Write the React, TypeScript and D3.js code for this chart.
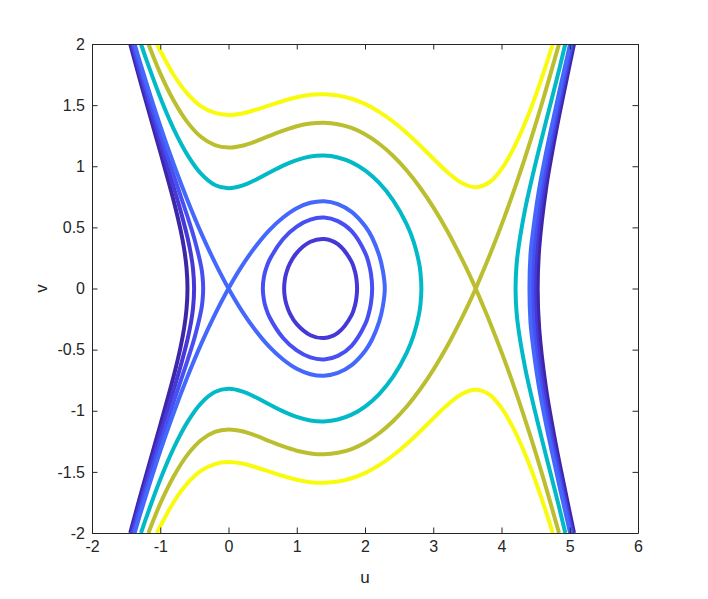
import React, { useEffect, useRef } from "react";
import * as d3 from "d3";

const width = 708;
const height = 599;
const margin = { top: 44, right: 70, bottom: 66, left: 92 };

const xTicks = [-2, -1, 0, 1, 2, 3, 4, 5, 6];
const yTicks = [-2, -1.5, -1, -0.5, 0, 0.5, 1, 1.5, 2];

// upper halves (v >= 0) of the contours.
// the lower halves are the mirror image in v.
const yellowUpper = [
  [-1.05, 2.0], [-1.0, 1.946], [-0.8, 1.744], [-0.6, 1.592], [-0.4, 1.49], [-0.2, 1.436],
  [0, 1.42], [0.2, 1.432], [0.4, 1.462], [0.6, 1.498], [0.8, 1.534], [1.0, 1.564],
  [1.2, 1.584], [1.4, 1.589], [1.602, 1.579], [1.804, 1.552], [2.006, 1.508], [2.208, 1.445],
  [2.41, 1.366], [2.612, 1.272], [2.814, 1.166], [3.016, 1.054], [3.218, 0.947], [3.42, 0.863],
  [3.622, 0.829], [3.83, 0.871], [4.03, 1.001], [4.23, 1.208], [4.43, 1.473], [4.63, 1.789],
  [4.75, 2.0],
];

const oliveLeft = [
  [-1.173, 2.0], [-1.0, 1.76], [-0.8, 1.534], [-0.6, 1.359], [-0.4, 1.239], [-0.2, 1.173],
  [0, 1.153], [0.2, 1.168], [0.4, 1.204], [0.6, 1.248], [0.8, 1.291], [1.0, 1.327],
  [1.2, 1.349], [1.4, 1.356], [1.602, 1.344], [1.804, 1.313], [2.006, 1.259], [2.208, 1.184],
  [2.41, 1.086], [2.612, 0.965], [2.814, 0.82], [3.016, 0.651], [3.218, 0.458], [3.42, 0.24],
  [3.521, 0.124], [3.622, 0],
];
const oliveRight = [
  [3.622, 0], [3.723, 0.133], [3.825, 0.269], [4.028, 0.561], [4.23, 0.878], [4.43, 1.218],
  [4.63, 1.585], [4.83, 1.976], [4.842, 2.0],
];

const cyanLeft = [
  [-1.282, 2.0], [-1.2, 1.866], [-1.0, 1.563], [-0.8, 1.302], [-0.6, 1.091], [-0.4, 0.937],
  [-0.2, 0.847], [0, 0.82], [0.2, 0.841], [0.4, 0.89], [0.6, 0.949], [0.8, 1.005],
  [1.0, 1.05], [1.2, 1.079], [1.4, 1.087], [1.602, 1.072], [1.804, 1.032], [2.006, 0.964],
  [2.208, 0.863], [2.41, 0.723], [2.612, 0.524], [2.713, 0.381], [2.794, 0.203], [2.814, 0.122],
  [2.826, 0],
];
const cyanRight = [
  [4.206, 0], [4.22, 0.19], [4.25, 0.338], [4.35, 0.659], [4.45, 0.909], [4.55, 1.139],
  [4.65, 1.362], [4.75, 1.58], [4.85, 1.802], [4.935, 2.0],
];

const sepLeft = [
  [-1.376, 2.0], [-1.3, 1.857], [-1.2, 1.676], [-1.0, 1.33], [-0.8, 1.012], [-0.6, 0.72],
  [-0.4, 0.453], [-0.2, 0.214], [0, 0],
];
const sepLoop = [
  [0, 0], [0.2, 0.187], [0.4, 0.346], [0.6, 0.478], [0.8, 0.581], [1.0, 0.657],
  [1.2, 0.701], [1.4, 0.714], [1.602, 0.691], [1.804, 0.627], [2.006, 0.507], [2.107, 0.413],
  [2.208, 0.271], [2.262, 0.144], [2.29, 0],
];
const sepRight = [
  [4.41, 0], [4.425, 0.28], [4.445, 0.392], [4.545, 0.791], [4.645, 1.088], [4.745, 1.351],
  [4.845, 1.605], [4.945, 1.851], [5.005, 2.0],
];

const midLoop = [
  [0.503, 0], [0.52, 0.098], [0.55, 0.162], [0.6, 0.233], [0.8, 0.405], [1.0, 0.507],
  [1.2, 0.564], [1.4, 0.58], [1.602, 0.551], [1.804, 0.469], [2.006, 0.288], [2.056, 0.203],
  [2.087, 0.122], [2.105, 0],
];
const midLeft = [
  [-0.371, 0], [-0.38, 0.096], [-0.4, 0.177], [-0.5, 0.407], [-0.6, 0.587], [-0.8, 0.922],
  [-1.0, 1.263], [-1.2, 1.623], [-1.3, 1.81], [-1.398, 2.0],
];
const midRight = [
  [4.449, 0], [4.465, 0.268], [4.545, 0.672], [4.645, 1.005], [4.745, 1.285], [4.845, 1.55],
  [4.945, 1.803], [5.023, 2.0],
];

const innerLoop = [
  [0.815, 0], [0.825, 0.072], [0.85, 0.133], [0.9, 0.205], [1.0, 0.292], [1.2, 0.382],
  [1.4, 0.405], [1.602, 0.363], [1.804, 0.218], [1.855, 0.134], [1.875, 0.074], [1.884, 0],
];
const innerLeft = [
  [-0.504, 0], [-0.52, 0.161], [-0.55, 0.278], [-0.6, 0.415], [-0.7, 0.631], [-0.8, 0.823],
  [-1.0, 1.193], [-1.2, 1.569], [-1.3, 1.762], [-1.419, 2.0],
];
const innerRight = [
  [4.486, 0], [4.505, 0.297], [4.545, 0.529], [4.645, 0.915], [4.745, 1.217], [4.845, 1.493],
  [4.945, 1.755], [5.04, 2.0],
];

const deepLeft = [
  [-0.601, 0], [-0.615, 0.169], [-0.65, 0.323], [-0.7, 0.473], [-0.8, 0.71], [-1.0, 1.118],
  [-1.2, 1.513], [-1.3, 1.712], [-1.44, 2.0],
];
const deepRight = [
  [4.53, 0], [4.552, 0.326], [4.652, 0.815], [4.752, 1.143], [4.852, 1.434], [4.952, 1.705],
  [5.062, 2.0],
];

const flip = pts => pts.map(([u, v]) => [u, -v]);
// half starts on v = 0 and goes out to the edge
const branch = half => [...flip(half).reverse(), ...half.slice(1)];
// half runs from the left end to the right end of a closed loop
const loop = half => [...half, ...flip(half).slice(1, -1).reverse()];

export default function App() {
  const chartRef = useRef(null);

  useEffect(() => {
    const svg = d3.select(chartRef.current);
    svg.selectAll("*").remove();

    const x = d3
      .scaleLinear()
      .domain([-2, 6])
      .range([margin.left, width - margin.right]);
    const y = d3
      .scaleLinear()
      .domain([-2, 2])
      .range([height - margin.bottom, margin.top]);

    const open = d3
      .line()
      .x(d => x(d[0]))
      .y(d => y(d[1]))
      .curve(d3.curveCatmullRom.alpha(0.5));
    const closed = d3
      .line()
      .x(d => x(d[0]))
      .y(d => y(d[1]))
      .curve(d3.curveCatmullRomClosed.alpha(0.5));

    const levels = [
      { color: "#3e26a8", open: [branch(deepLeft), branch(deepRight)], closed: [] },
      { color: "#4538d7", open: [branch(innerLeft), branch(innerRight)], closed: [loop(innerLoop)] },
      { color: "#484ff2", open: [branch(midLeft), branch(midRight)], closed: [loop(midLoop)] },
      {
        color: "#4467fc",
        open: [
          [
            ...sepLeft,
            ...flip(sepLoop).slice(1),
            ...sepLoop.slice(0, -1).reverse(),
            ...flip(sepLeft).reverse().slice(1),
          ],
          branch(sepRight),
        ],
        closed: [],
      },
      {
        color: "#02b9c7",
        open: [[...cyanLeft, ...flip(cyanLeft).reverse().slice(1)], branch(cyanRight)],
        closed: [],
      },
      {
        color: "#bbbf2f",
        open: [
          [...oliveLeft, ...flip(oliveRight).slice(1)],
          [...flip(oliveLeft), ...oliveRight.slice(1)],
        ],
        closed: [],
      },
      { color: "#f9fb0e", open: [yellowUpper, flip(yellowUpper)], closed: [] },
    ];

    svg
      .append("defs")
      .append("clipPath")
      .attr("id", "plot-clip")
      .append("rect")
      .attr("x", margin.left)
      .attr("y", margin.top)
      .attr("width", width - margin.left - margin.right)
      .attr("height", height - margin.top - margin.bottom);

    const plot = svg.append("g").attr("clip-path", "url(#plot-clip)");
    levels.forEach(level => {
      const g = plot
        .append("g")
        .attr("fill", "none")
        .attr("stroke", level.color)
        .attr("stroke-width", 4)
        .attr("stroke-linejoin", "round");
      level.open.forEach(pts => g.append("path").attr("d", open(pts)));
      level.closed.forEach(pts => g.append("path").attr("d", closed(pts)));
    });

    const axisColor = "#262626";
    const font = "'Liberation Sans', Arial, Helvetica, sans-serif";
    const style = g => {
      g.attr("font-size", 16).attr("font-family", font);
      g.select(".domain").attr("stroke", axisColor);
      g.selectAll(".tick line").attr("stroke", axisColor);
      g.selectAll(".tick text").attr("fill", axisColor);
    };

    svg
      .append("g")
      .attr("transform", `translate(0,${height - margin.bottom})`)
      .call(
        d3.axisBottom(x).tickValues(xTicks).tickFormat(d => String(d)).tickSizeInner(-5.5).tickSizeOuter(0).tickPadding(8)
      )
      .call(style);
    svg
      .append("g")
      .attr("transform", `translate(0,${margin.top})`)
      .call(d3.axisTop(x).tickValues(xTicks).tickFormat(() => "").tickSizeInner(-5.5).tickSizeOuter(0))
      .call(style);
    svg
      .append("g")
      .attr("transform", `translate(${margin.left},0)`)
      .call(
        d3.axisLeft(y).tickValues(yTicks).tickFormat(d => String(d)).tickSizeInner(-5.5).tickSizeOuter(0).tickPadding(7)
      )
      .call(style);
    svg
      .append("g")
      .attr("transform", `translate(${width - margin.right},0)`)
      .call(d3.axisRight(y).tickValues(yTicks).tickFormat(() => "").tickSizeInner(-5.5).tickSizeOuter(0))
      .call(style);

    svg
      .append("text")
      .attr("x", (margin.left + width - margin.right) / 2)
      .attr("y", 583)
      .attr("text-anchor", "middle")
      .attr("font-size", 17)
      .attr("font-family", font)
      .attr("fill", axisColor)
      .text("u");
    svg
      .append("text")
      .attr("transform", `translate(46.5,${(margin.top + height - margin.bottom) / 2}) rotate(-90)`)
      .attr("text-anchor", "middle")
      .attr("font-size", 17)
      .attr("font-family", font)
      .attr("fill", axisColor)
      .text("v");
  }, []);

  return (
    <svg
      ref={chartRef}
      width={width}
      height={height}
      style={{ position: "absolute", left: 0, top: 0, background: "#fff" }}
    />
  );
}
